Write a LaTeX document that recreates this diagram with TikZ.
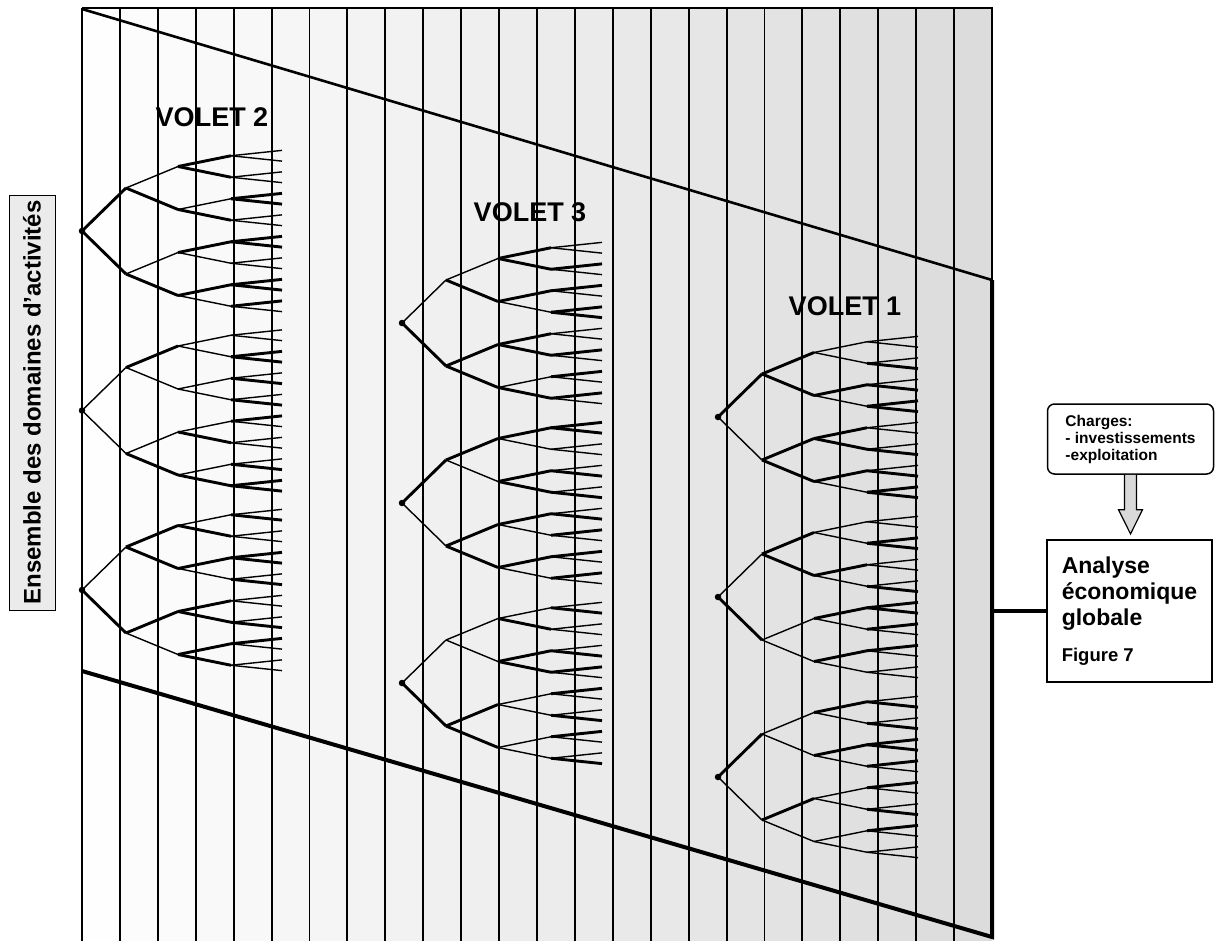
\documentclass[tikz,border=0pt]{standalone}
\usepackage{fontspec}
\setmainfont{Liberation Sans}
\usetikzlibrary{calc}
\begin{document}
\begin{tikzpicture}[x=1pt,y=-1pt,
  gridline/.style={line width=1.9pt},
  frameline/.style={line width=4pt, line join=miter},
  voletlabel/.style={font=\fontsize{27}{32}\selectfont\bfseries, inner sep=0pt},
  rootdot/.style={circle, fill=black, inner sep=0pt, minimum size=6.5pt},
  sidebox/.style={draw, line width=1pt, fill=black!8, rotate=90, minimum width=415pt,
    minimum height=46pt, inner sep=0pt, font=\fontsize{24}{28}\selectfont\bfseries},
  chargebox/.style={draw, line width=1.5pt, rounded corners=7pt, fill=white,
    minimum width=166pt, minimum height=70pt, align=left, inner sep=0pt,
    font=\fontsize{15.5}{17}\selectfont\bfseries},
  analysebox/.style={draw, line width=2.2pt, fill=white, minimum width=165pt,
    minimum height=142pt, align=left, inner sep=0pt,
    font=\fontsize{23}{26}\selectfont\bfseries},
  blockarrow/.style={draw, line width=1.2pt, fill=black!15, line join=miter}
]
\useasboundingbox (0,0) rectangle (1215,942);
% shaded strips
\foreach \i in {0,...,23}{
  \pgfmathsetmacro\gv{0.995-0.0058*\i}
  \definecolor{stripc}{gray}{\gv}
  \fill[stripc] ({82+37.917*\i},8) rectangle ({82+37.917*(\i+1)},941);
}
% vertical lines
\foreach \i in {0,...,23}
  \draw[gridline] ({82+37.917*\i},8) -- ({82+37.917*\i},941);
\draw[line width=1.5pt] (82,8) -- (992,8) -- (992,282);
% trapezoid
\draw[line width=2.6pt] (82,9) -- (992,280);
\draw[frameline] (82,671) -- (992,937) -- (992,280);
% trees
\pgfmathsetseed{4711}
\foreach \tr/\xx/\yy in {a/82/231, b/82/410.5, c/82/590, d/402/323, e/402/503, f/402/683, g/718/417, h/718/597, k/718/777}{
  \coordinate (\tr-0-0) at (\xx,\yy);
  \foreach \lev/\dx in {1/44,2/96,3/149,4/200}{
    \pgfmathtruncatemacro\nn{2^\lev-1}
    \pgfmathtruncatemacro\lp{\lev-1}
    \pgfmathsetmacro\spc{172/2^\lev}
    \foreach \jj in {0,...,\nn}{
      \pgfmathtruncatemacro\jp{floor(\jj/2)}
      \coordinate (\tr-\lev-\jj) at ({\xx+\dx},{\yy+(\jj-\nn/2)*\spc});
      \pgfmathrandominteger\rnd{0}{9}
      \ifnum\rnd<5 \def\lwd{2.9pt}\else\def\lwd{1.4pt}\fi
      \draw[line width=\lwd] (\tr-\lp-\jp) -- (\tr-\lev-\jj);
    }
  }
  \node[rootdot] (\tr-root) at (\tr-0-0) {};
}
% labels
\node[voletlabel] (v2) at (212,117) {VOLET 2};
\node[voletlabel] (v3) at (530,212) {VOLET 3};
\node[voletlabel] (v1) at (845,306) {VOLET 1};
\node[sidebox] (ens) at (32,402.5) {Ensemble des domaines d’activités};
% right boxes
\node[chargebox] (charges) at (1130.5,439) {Charges:\\- investissements\\-exploitation};
\node[analysebox] (analyse) at (1129.5,611) {Analyse\\économique\\globale\\[10pt]\fontsize{18.5}{22}\selectfont Figure 7};
\draw[blockarrow] ($(charges.south)+(-6,0)$) -- ($(charges.south)+(-6,35)$) -- ($(charges.south)+(-12,35)$)
  -- ($(charges.south |- analyse.north)+(0,-5)$) -- ($(charges.south)+(12,35)$) -- ($(charges.south)+(6,35)$) -- ($(charges.south)+(6,0)$);
\coordinate (edgept) at (992,611);
\draw[frameline] (edgept) -- (analyse.west);
\end{tikzpicture}
\end{document}
